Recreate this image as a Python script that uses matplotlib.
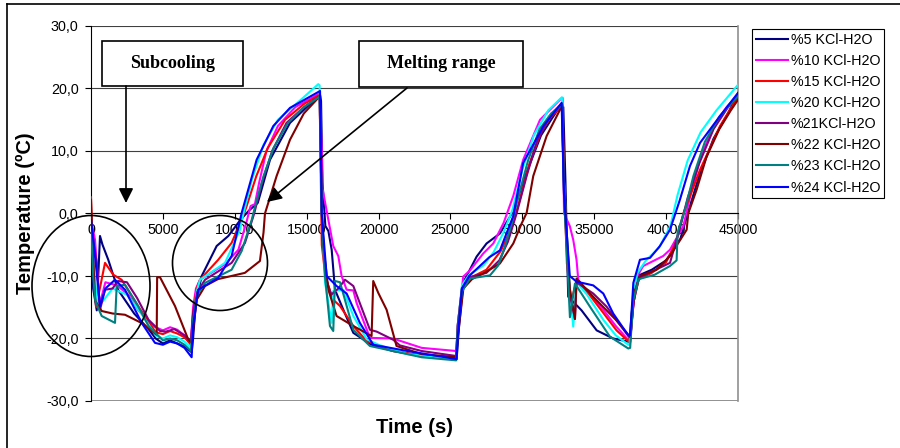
import matplotlib
matplotlib.use('Agg')
import matplotlib.pyplot as plt
from matplotlib.patches import Ellipse, Rectangle, FancyArrowPatch
from matplotlib.lines import Line2D

plt.rcParams['font.family'] = 'Liberation Sans'

# Data: (time [s], temperature [C])
t_5 = [0, 150, 400, 626, 800, 1200, 1880, 3000, 4000, 4500, 5000, 5500, 6000, 6500, 7000, 7100, 7300, 7700,
       8740, 9550, 10400, 11000, 11600, 12450, 13840, 15000, 15930, 16000, 16100, 16300, 16510, 16740, 16970,
       17550, 18245, 19500, 21000, 23000, 25300, 25430, 25600, 25900, 26820, 27510, 28440, 29400, 30200, 31300,
       32000, 32750, 32850, 33000, 33190, 34120, 35170, 36320, 37370, 37490, 37700, 38000, 39000, 40000, 41000,
       41500, 42300, 43300, 44300, 45000]
T_5 = [0, -12, -15.5, -3.6, -5, -7.4, -12.2, -16, -18.5, -20, -20.8, -20.3, -20.8, -21.3, -22.2, -20, -14, -10,
       -5.2, -3.6, -1, 0.5, 1.7, 8.6, 14.5, 17, 19, 18, 5, -2, -2.8, -5.8, -12.2,
       -15.4, -19.1, -21, -22, -22.8, -23.2, -23.3, -18, -11, -6.9, -4.8, -3.2, 0.5, 6, 12.5,
       15, 17.6, 17, 5, -13.3, -15.5, -18.7, -20, -20.5, -20.7, -15, -10, -9, -7.5, -4,
       0, 6, 12, 16, 19.2]

t_10 = [0, 280, 600, 1000, 1800, 2600, 3300, 4300, 5000, 5500, 6000, 6500, 6950, 7100, 7300, 7580, 9320, 10250,
        10800, 11100, 11400, 11700, 12200, 13000, 14200, 15900, 16050, 16100, 16850, 17200, 17430, 17780, 18245,
        18470, 19400, 21000, 23000, 25400, 25600, 25890, 26360, 27280, 27980, 28700, 29370, 30060, 31230, 32620,
        32800, 32900, 33300, 33540, 33770, 33890, 34500, 35500, 36500, 37400, 37500, 37700, 38000, 38410, 39800,
        40270, 41200, 41700, 42400, 43300, 44200, 45000]
T_10 = [-1, -4.2, -14.6, -11, -11.5, -13, -15.5, -18, -18.7, -18.2, -18.6, -19.5, -20.5, -15, -12, -10.6, -8.1, -5.8,
        -1.5, 1.2, 1.5, 5, 10, 14, 17, 19.2, 10, 4, -5.2, -6.8, -10, -12.2, -12.3,
        -14.3, -19.9, -20, -21.5, -22, -16, -10.1, -9.1, -6.4, -4.8, -1.5, 2.8, 8.6, 15, 18.2,
        18.5, 0, -2, -4.2, -7.4, -10.6, -12.5, -15, -18, -20.3, -20.5, -14, -10, -8.4, -6.8,
        -5.8, -2, 3, 9, 14, 17, 19]

t_15 = [0, 100, 350, 975, 1550, 2130, 3270, 4500, 5000, 5500, 6000, 6500, 6950, 7100, 7350, 7580, 8850, 9780,
        10480, 10800, 11500, 12300, 13500, 14800, 15900, 16050, 16300, 16510, 16850, 17320, 18245, 19170, 21000,
        23000, 25400, 25500, 25800, 26200, 27500, 28500, 29300, 29800, 30500, 31300, 32000, 32750, 32900, 33100,
        33400, 33770, 34500, 35500, 36550, 37400, 37550, 37750, 38100, 39000, 40000, 40700, 41200, 42360, 43750,
        45000]
T_15 = [2.6, -5, -15, -7.9, -9.8, -10.6, -14.8, -19, -19.3, -18.8, -19.2, -19.8, -21, -16, -12, -10.6, -7.4, -4.7,
        -1, 1, 6, 10.5, 15, 17.5, 19, -5, -10, -11.6, -13.8, -14.8, -18, -20.4, -22,
        -22.7, -23, -18, -12, -10.5, -9, -6, -2, 2, 8, 13, 15.5, 17.2, 5, -8,
        -14, -10.8, -12.5, -15.5, -18.7, -20.5, -19, -14, -10.5, -9.5, -7.8, -4.5, 0, 7, 14,
        18.7]

t_20 = [0, 200, 500, 1500, 2500, 3500, 4500, 5000, 5500, 6000, 6500, 6950, 7100, 7350, 7580, 9320, 10360, 10600,
        11200, 12000, 13000, 14500, 15810, 15900, 16050, 16275, 16740, 16850, 17550, 18245, 19170, 20000, 22000,
        25400, 25500, 25800, 26300, 27300, 28000, 28700, 29300, 30000, 30800, 31800, 32750, 32900, 33300, 33540,
        33770, 34500, 35630, 36500, 37370, 37450, 37700, 38000, 38600, 39500, 40300, 40800, 41500, 42400, 43500,
        45000]
T_20 = [-1, -9.6, -15, -12, -13, -16, -19.5, -20, -19.5, -19.8, -20.5, -21.5, -17, -12.5, -10.6, -7.9, -2.6, 0,
        5.5, 11, 15, 18, 20.7, 20.5, 0, -11, -17.5, -12.4, -12.2, -16.4, -20.1, -21, -22.5,
        -23.3, -18, -11.5, -9.8, -8.3, -6.2, -3, 0.5, 7, 12.5, 16.5, 18.6, 5, -12, -18.1,
        -11, -13, -17, -19.5, -21, -21, -13, -9.5, -7.5, -5.5, -2, 3, 8.5, 13, 16.5,
        20.6]

t_21 = [0, 200, 400, 626, 975, 1500, 1880, 2500, 3200, 4000, 4800, 5200, 5800, 6500, 6950, 7100, 7400, 7930, 9780,
        10710, 11350, 11900, 12600, 13600, 14800, 15900, 16050, 16300, 16700, 17200, 17665, 18245, 19400, 19870,
        21020, 21480, 23000, 25400, 25500, 25800, 26300, 27500, 28400, 29000, 29600, 30300, 31000, 31900, 32750,
        32900, 33300, 33660, 33770, 34930, 35860, 37400, 37500, 37750, 38100, 39000, 40270, 41000, 41500, 42300,
        43300, 44300, 45000]
T_21 = [-1, -5, -7.9, -15.4, -12.2, -12, -10.8, -11, -13.5, -17, -18.8, -18.9, -18.5, -19.5, -20.5, -16, -12.5, -10.6,
        -7.9, -4.7, 0, 5, 10, 14.5, 17, 18.8, 0, -10, -13, -12, -10.6, -11.6, -18.6, -18.9,
        -20.2, -21.1, -22, -22.8, -18, -12, -10.2, -9.5, -7.5, -4.5, 0, 6, 11.5, 15.5, 17.6,
        3, -13, -16.8, -11, -12.8, -14.9, -19.7, -19.8, -14, -10.3, -9.3, -7.9, -2, 2.5, 8,
        13.5, 17, 18.8]

t_22 = [0, 100, 300, 742, 1500, 2365, 3500, 4570, 4600, 4800, 5840, 6770, 7000, 7350, 7930, 8830, 10700, 11750,
        12000, 12100, 12910, 13840, 14800, 15930, 16100, 16510, 17080, 18245, 19515, 19630, 19980, 20560, 21250,
        23000, 25400, 25500, 25900, 26500, 27280, 28440, 29370, 29950, 30300, 30760, 31690, 32620, 32800, 32900,
        33300, 33660, 33770, 35000, 36500, 37480, 37600, 37800, 38180, 39340, 40270, 41430, 41540, 42120, 42800,
        43700, 44500, 45000]
T_22 = [2.2, -5, -14, -15.6, -16, -16.2, -17.5, -19.4, -10.2, -10.2, -14.8, -20.2, -20.7, -13.8, -11.6, -10.5, -9.5,
        -7.6, -3, 0, 6, 11.8, 16, 18.8, -4, -12.2, -16.4, -18, -19.6, -10.8, -12.7, -15.4, -21.2,
        -22.5, -23, -20, -12, -10.5, -9.6, -8, -4.8, -1.6, 0.1, 6, 12.4, 16.6, 17, 5,
        -12, -16.9, -10.4, -13.5, -17, -19.7, -16, -12.5, -10, -9, -6.8, -2.6, 0, 3.8, 9,
        13.5, 16.5, 18.2]

t_23 = [0, 150, 300, 742, 1670, 1785, 2365, 3200, 4000, 5000, 5500, 6000, 6500, 6950, 7100, 7400, 7930, 9780,
        10480, 11180, 11400, 12000, 12700, 13700, 14800, 15900, 16050, 16275, 16620, 16850, 16970, 17320, 18245,
        19400, 21000, 23000, 25400, 25500, 25800, 26360, 27750, 28330, 28790, 29260, 29700, 30400, 31200, 32000,
        32750, 32900, 33310, 33660, 34700, 36090, 37370, 37500, 37700, 38100, 39200, 40270, 40730, 40800, 41300,
        41900, 42700, 43700, 45000]
T_23 = [-1, -10, -14, -16.4, -17.5, -11.6, -11.4, -14.5, -18, -20.3, -20, -20.3, -21, -22, -17, -13, -11.1, -9,
        -6, -1, 1, 6, 10.5, 14.5, 17, 18.7, 0, -10, -18, -18.8, -10.8, -11, -18.6,
        -21.2, -22, -23, -23.5, -19, -12.5, -10.4, -9.9, -8.3, -5.3, -1.6, 2.5, 8.5, 13.5, 16,
        17.5, 3, -16.6, -11.2, -14.9, -19.7, -21.6, -21.5, -14, -10.5, -9.8, -8.4, -7.5, -3, 0.5,
        6, 11.5, 15.5, 18.8]

t_24 = [0, 200, 626, 1000, 1670, 2365, 3525, 4450, 5000, 5500, 6000, 6500, 7000, 7100, 7460, 8850, 9780, 10480,
        11520, 12680, 13840, 15930, 16050, 16390, 17080, 17780, 18700, 19630, 22000, 25430, 25500, 25800, 26300,
        27000, 27700, 28440, 29370, 30060, 31460, 32730, 32900, 33300, 33770, 34930, 35630, 36320, 37370, 37500,
        37720, 38180, 38880, 39570, 40270, 40960, 41660, 42360, 43750, 45000]
T_24 = [-1, -5, -14.8, -12, -10.6, -12.2, -17.5, -20.7, -21, -20.5, -20.8, -21.5, -23, -18, -12.2, -10.3, -6.8, 0.1,
        8.6, 14, 16.9, 19.6, 0, -10, -11.6, -12.8, -17.5, -21, -22, -23.3, -20, -12, -10,
        -8.5, -7, -5.9, -0.4, 8.1, 14, 17.7, 3, -10, -10.9, -11.5, -12.8, -16, -19.5, -19.5,
        -11.1, -7.4, -7.1, -5.2, -2.6, 2.2, 7.6, 11.3, 15.6, 19.3]

series = [
    ('%5 KCl-H2O', t_5, T_5, '#000080'),
    ('%10 KCl-H2O', t_10, T_10, '#FF00FF'),
    ('%15 KCl-H2O', t_15, T_15, '#FF0000'),
    ('%20 KCl-H2O', t_20, T_20, '#00FFFF'),
    ('%21KCl-H2O', t_21, T_21, '#800080'),
    ('%22 KCl-H2O', t_22, T_22, '#800000'),
    ('%23 KCl-H2O', t_23, T_23, '#008080'),
    ('%24 KCl-H2O', t_24, T_24, '#0000FF'),
]

x_ticks = [0, 5000, 10000, 15000, 20000, 25000, 30000, 35000, 40000, 45000]
y_ticks = [-30, -20, -10, 0, 10, 20, 30]

W, H = 900, 448
fig = plt.figure(figsize = (9, 4.48), dpi = 100)
ax = fig.add_axes([91 / W, 1 - 401 / H, 647 / W, 375 / H])

handles = []
for name, t, T, c in series:
    ln, = ax.plot(t, T, color = c, linewidth = 1.5, label = name, zorder = 3)
    handles.append(ln)

ax.set_xlim(0, 45000)
ax.set_ylim(-30, 30)
ax.set_xticks(x_ticks)
ax.set_xticklabels([str(v) for v in x_ticks])
ax.set_yticks(y_ticks)
ax.set_yticklabels([f'{v:.1f}'.replace('.', ',') for v in y_ticks])
ax.tick_params(axis = 'both', labelsize = 10.3, length = 4, width = 0.8, colors = 'black')
ax.tick_params(axis = 'x', pad = 3)
ax.tick_params(axis = 'y', pad = 5)

# Excel style: x axis crosses at 0
ax.spines['bottom'].set_position(('data', 0))
ax.spines['bottom'].set_color('black')
ax.spines['left'].set_color('black')
ax.spines['top'].set_visible(False)
ax.spines['right'].set_color('#909090')
ax.spines['right'].set_linewidth(1.2)
for s in ['bottom', 'left']:
    ax.spines[s].set_linewidth(0.8)
ax.set_axisbelow(True)
ax.grid(True, axis = 'y', color = '#404040', linewidth = 0.8)
ax.axhline(-30, color = '#808080', linewidth = 1.2, zorder = 1)

fig.text(25 / W, 1 - 213 / H, 'Temperature (ºC)', rotation = 90, ha = 'center', va = 'center',
         fontsize = 14.5, fontweight = 'bold')
fig.text(415 / W, 1 - 427 / H, 'Time (s)', ha = 'center', va = 'center', fontsize = 14.5, fontweight = 'bold')

fig.legend(handles = handles, loc = 'upper left', bbox_to_anchor = (752 / W, 1 - 29 / H), fontsize = 10.3,
           frameon = True, fancybox = False, edgecolor = 'black', framealpha = 1, handlelength = 2.3,
           handletextpad = 0.15, labelspacing = 0.5, borderpad = 0.25, borderaxespad = 0)
fig.legends[0].get_frame().set_linewidth(0.8)

# outer chart frame (only top and left are visible)
fig.add_artist(Line2D([7 / W, 7 / W], [0, 1 - 4 / H], color = 'black', linewidth = 1.2))
fig.add_artist(Line2D([7 / W, 1], [1 - 4 / H, 1 - 4 / H], color = 'black', linewidth = 1.2))

# annotation boxes
def px_box(x0, y0, x1, y1, text):
    fig.add_artist(Rectangle((x0 / W, 1 - y1 / H), (x1 - x0) / W, (y1 - y0) / H, transform = fig.transFigure,
                             facecolor = 'white', edgecolor = 'black', linewidth = 1.2, zorder = 5))
    fig.text((x0 + x1) / 2 / W, 1 - (y0 + y1) / 2 / H, text, ha = 'center', va = 'center',
             family = 'Liberation Serif', fontweight = 'bold', fontsize = 13, zorder = 6)

def px_arrow(x0, y0, x1, y1):
    fig.add_artist(FancyArrowPatch((x0 / W, 1 - y0 / H), (x1 / W, 1 - y1 / H), transform = fig.transFigure,
                                   arrowstyle = '-|>', mutation_scale = 22, color = 'black', linewidth = 1.2,
                                   shrinkA = 0, shrinkB = 0, zorder = 6))

px_box(102, 41, 243, 86, 'Subcooling')
px_box(359, 41, 523, 87, 'Melting range')
px_arrow(126, 86, 126, 203)
px_arrow(407, 88, 267, 202)

fig.add_artist(Ellipse((91 / W, 1 - 286 / H), 118 / W, 141 / H, transform = fig.transFigure,
                       facecolor = 'none', edgecolor = 'black', linewidth = 1.2, zorder = 6))
fig.add_artist(Ellipse((220 / W, 1 - 263 / H), 95 / W, 95 / H, transform = fig.transFigure,
                       facecolor = 'none', edgecolor = 'black', linewidth = 1.2, zorder = 6))

fig.savefig('out.png', dpi = 100)
